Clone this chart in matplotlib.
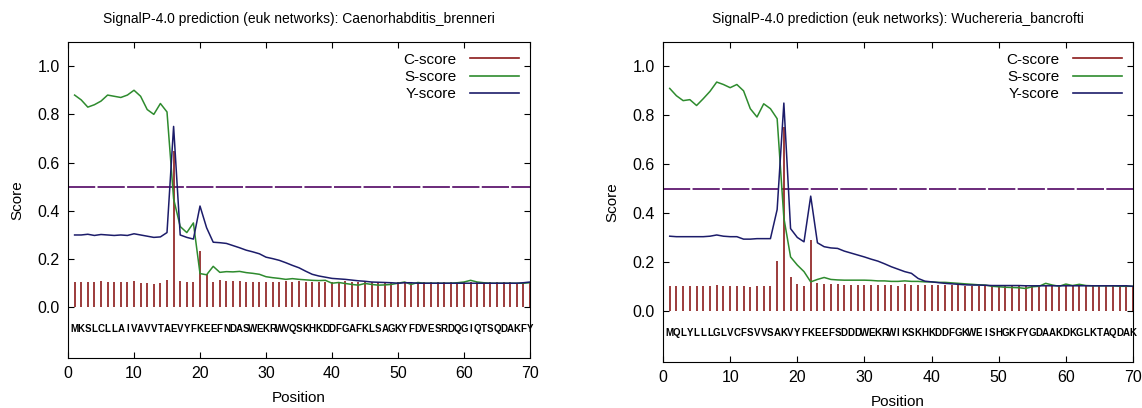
import matplotlib
matplotlib.use("Agg")
import matplotlib.pyplot as plt
from matplotlib.lines import Line2D

plt.rcParams['font.family'] = ['Liberation Sans', 'DejaVu Sans']

positions = list(range(1, 71))

# Caenorhabditis_brenneri
seq_left = "MKSLCLLAIVAVVTAEVYFKEEFNDASWEKRWVQSKHKDDFGAFKLSAGKYFDVESRDQGIQTSQDAKFY"
c_left = [0.105, 0.105, 0.105, 0.105, 0.108, 0.105, 0.105, 0.105, 0.103, 0.108,
          0.100, 0.100, 0.095, 0.100, 0.112, 0.650, 0.110, 0.103, 0.103, 0.233,
          0.137, 0.105, 0.112, 0.110, 0.108, 0.108, 0.105, 0.105, 0.105, 0.105,
          0.105, 0.105, 0.108, 0.105, 0.108, 0.105, 0.103, 0.103, 0.105, 0.105,
          0.105, 0.108, 0.105, 0.103, 0.103, 0.103, 0.103, 0.103, 0.103, 0.103,
          0.103, 0.103, 0.103, 0.103, 0.103, 0.103, 0.103, 0.103, 0.103, 0.103,
          0.103, 0.103, 0.103, 0.103, 0.103, 0.103, 0.103, 0.100, 0.100, 0.100]
s_left = [0.880, 0.860, 0.830, 0.840, 0.855, 0.880, 0.875, 0.870, 0.880, 0.900,
          0.875, 0.820, 0.800, 0.845, 0.810, 0.450, 0.335, 0.310, 0.350, 0.140,
          0.135, 0.170, 0.145, 0.148, 0.147, 0.149, 0.144, 0.141, 0.137, 0.127,
          0.123, 0.120, 0.116, 0.119, 0.116, 0.114, 0.112, 0.111, 0.112, 0.100,
          0.103, 0.099, 0.095, 0.092, 0.099, 0.095, 0.092, 0.093, 0.095, 0.100,
          0.105, 0.095, 0.103, 0.100, 0.100, 0.100, 0.100, 0.100, 0.102, 0.105,
          0.112, 0.105, 0.102, 0.100, 0.100, 0.100, 0.100, 0.100, 0.100, 0.102]
y_left = [0.300, 0.300, 0.303, 0.298, 0.302, 0.300, 0.298, 0.300, 0.298, 0.305,
          0.300, 0.295, 0.290, 0.292, 0.310, 0.750, 0.300, 0.290, 0.283, 0.420,
          0.330, 0.270, 0.268, 0.265, 0.256, 0.247, 0.237, 0.230, 0.222, 0.208,
          0.202, 0.195, 0.185, 0.174, 0.164, 0.150, 0.137, 0.130, 0.125, 0.120,
          0.118, 0.116, 0.113, 0.110, 0.108, 0.105, 0.104, 0.103, 0.102, 0.100,
          0.102, 0.102, 0.100, 0.100, 0.100, 0.100, 0.100, 0.100, 0.100, 0.100,
          0.100, 0.100, 0.100, 0.100, 0.100, 0.100, 0.100, 0.100, 0.102, 0.105]

# Wuchereria_bancrofti
seq_right = "MQLYLLLGLVCFSVVSAKVYFKEEFSDDDWEKRWIKSKHKDDFGKWEISHGKFYGDAAKDKGLKTAQDAK"
c_right = [0.102, 0.102, 0.102, 0.102, 0.102, 0.102, 0.102, 0.107, 0.102, 0.102,
           0.102, 0.102, 0.095, 0.100, 0.100, 0.100, 0.203, 0.750, 0.140, 0.110,
           0.100, 0.290, 0.112, 0.108, 0.108, 0.108, 0.105, 0.105, 0.105, 0.105,
           0.105, 0.105, 0.105, 0.105, 0.103, 0.108, 0.105, 0.105, 0.105, 0.105,
           0.105, 0.105, 0.105, 0.105, 0.103, 0.103, 0.103, 0.103, 0.103, 0.103,
           0.103, 0.103, 0.103, 0.100, 0.100, 0.103, 0.103, 0.103, 0.103, 0.103,
           0.103, 0.103, 0.103, 0.103, 0.103, 0.103, 0.103, 0.100, 0.105, 0.100]
s_right = [0.910, 0.880, 0.860, 0.864, 0.840, 0.868, 0.898, 0.936, 0.926, 0.913,
           0.926, 0.900, 0.827, 0.793, 0.847, 0.827, 0.786, 0.380, 0.220, 0.187,
           0.160, 0.118, 0.128, 0.136, 0.128, 0.126, 0.125, 0.125, 0.125, 0.125,
           0.124, 0.122, 0.122, 0.120, 0.120, 0.122, 0.120, 0.120, 0.118, 0.118,
           0.116, 0.116, 0.114, 0.112, 0.110, 0.108, 0.106, 0.105, 0.100, 0.098,
           0.096, 0.095, 0.094, 0.091, 0.098, 0.100, 0.112, 0.105, 0.100, 0.109,
           0.103, 0.108, 0.103, 0.102, 0.102, 0.102, 0.102, 0.100, 0.100, 0.100]
y_right = [0.305, 0.303, 0.303, 0.303, 0.303, 0.303, 0.305, 0.310, 0.305, 0.303,
           0.303, 0.293, 0.293, 0.295, 0.295, 0.295, 0.414, 0.850, 0.336, 0.300,
           0.282, 0.469, 0.278, 0.262, 0.257, 0.255, 0.244, 0.236, 0.228, 0.220,
           0.211, 0.203, 0.192, 0.180, 0.170, 0.160, 0.153, 0.132, 0.121, 0.118,
           0.115, 0.112, 0.110, 0.108, 0.106, 0.105, 0.105, 0.104, 0.103, 0.103,
           0.103, 0.103, 0.103, 0.102, 0.102, 0.102, 0.102, 0.102, 0.102, 0.102,
           0.102, 0.102, 0.102, 0.102, 0.102, 0.102, 0.102, 0.102, 0.102, 0.100]

threshold = 0.5
x_ticks = [0, 10, 20, 30, 40, 50, 60, 70]
y_ticks = [0.0, 0.2, 0.4, 0.6, 0.8, 1.0]

C_COL = "#8b1a1a"
S_COL = "#2e8b2e"
Y_COL = "#1c1c6a"
T_COL = "#6a2a7a"

fig = plt.figure(figsize=(11.42, 4.08), dpi=100)
ax1 = fig.add_axes([68 / 1142, 50 / 408, 462 / 1142, 316 / 408])
ax2 = fig.add_axes([663 / 1142, 46 / 408, 470 / 1142, 320 / 408])

panels = [
    (ax1, "Caenorhabditis_brenneri", seq_left, c_left, s_left, y_left),
    (ax2, "Wuchereria_bancrofti", seq_right, c_right, s_right, y_right),
]

for ax, name, seq, c, s, y in panels:
    ax.axhline(threshold, color=T_COL, lw=1.4, dashes=(14, 1.2))
    ax.vlines(positions, 0, c, color=C_COL, lw=1.2)
    ax.plot(positions, s, color=S_COL, lw=1.1)
    ax.plot(positions, y, color=Y_COL, lw=1.1)
    for i, aa in enumerate(seq):
        ax.text(positions[i], -0.09, aa, ha="center", va="center",
                fontsize=7, fontweight="bold",
                family=["Liberation Sans Narrow", "Liberation Sans", "DejaVu Sans"])
    ax.set_xlim(0, 70)
    ax.set_ylim(-0.21, 1.1)
    ax.set_xticks(x_ticks)
    ax.set_yticks(y_ticks)
    ax.set_yticklabels([f"{v:.1f}" for v in y_ticks])
    ax.tick_params(direction="in", top=True, right=True, labelsize=11.5, length=4, pad=6)
    ax.set_xlabel("Position", fontsize=11, labelpad=7)
    ax.set_ylabel("Score", fontsize=11, labelpad=9)
    ax.set_title(f"SignalP-4.0 prediction (euk networks): {name}", fontsize=10, pad=14)
    handles = [Line2D([], [], color=C_COL, lw=1.2),
               Line2D([], [], color=S_COL, lw=1.2),
               Line2D([], [], color=Y_COL, lw=1.2)]
    ax.legend(handles, ["C-score", "S-score", "Y-score"], loc="upper right",
              frameon=False, markerfirst=False, fontsize=11, handlelength=3.2,
              labelspacing=0.22, borderaxespad=0.5, handletextpad=0.9,
              borderpad=0.2)

fig.savefig("out.png", dpi=100)
